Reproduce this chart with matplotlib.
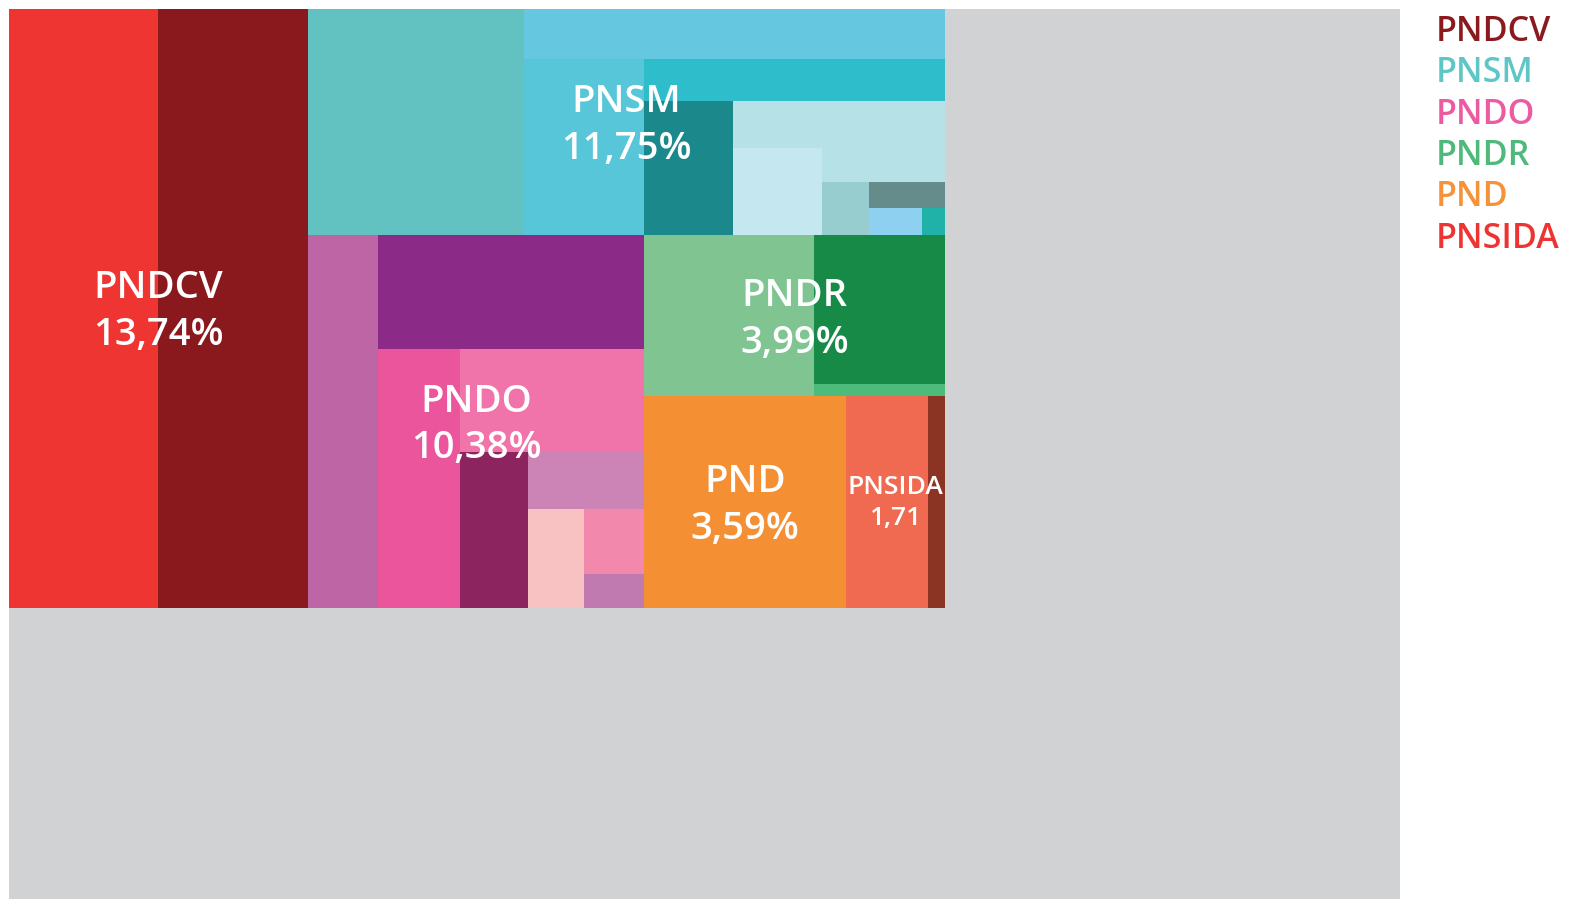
import matplotlib
matplotlib.use('Agg')
import matplotlib.pyplot as plt
from matplotlib.patches import Rectangle

# programme names, label text and legend colours
programmes = ['PNDCV', 'PNSM', 'PNDO', 'PNDR', 'PND', 'PNSIDA']
labels = ['13,74%', '11,75%', '10,38%', '3,99%', '3,59%', '1,71']
legend_colors = ['#8B1A1E', '#5EC6C6', '#EC5BA1', '#4EB97B', '#F5923A', '#EE3432']

# sub-blocks of each programme, in % of the whole frame
pndcv_vals = [7.25, 7.25]
pndcv_cols = ['#EE3531', '#8A191E']

pnsm_vals = [3.95, 1.705, 1.71, 1.024, 0.966, 0.807, 0.627, 0.339, 0.202, 0.160, 0.116, 0.050]
pnsm_cols = ['#62C2C1', '#66C8E0', '#56C6D8', '#2EBDCA', '#1B888C', '#B5E1E7',
             '#C5E8F0', '#B5E1E7', '#97CDCF', '#668B8B', '#8DD0F0', '#20B2A8']

pndo_vals = [2.103, 2.434, 1.713, 1.535, 0.854, 0.535, 0.444, 0.311, 0.165]
pndo_cols = ['#BE65A5', '#8B2A87', '#EA559B', '#F074A9', '#8C2460', '#CC84B6',
             '#F8C1C2', '#F289AC', '#C07AB0']

pndr_vals = [2.203, 1.570, 0.127]
pndr_cols = ['#80C591', '#178A47', '#4DBB7A']

pnd_vals = [3.452]
pnd_cols = ['#F48F34']

pnsida_vals = [1.401, 0.290]
pnsida_cols = ['#EF6A50', '#8C3424']

group_vals = [pndcv_vals, pnsm_vals, pndo_vals, pndr_vals, pnd_vals, pnsida_vals]
group_cols = [pndcv_cols, pnsm_cols, pndo_cols, pndr_cols, pnd_cols, pnsida_cols]

FRAME_W, FRAME_H = 1391.5, 890.5
BG = '#D1D2D4'


def alt_slice(values, x, y, w, h):
    # slice-and-dice, cutting alternately left/right and top/bottom
    rects = []
    total = float(sum(values))
    vert = True
    for i, v in enumerate(values):
        if i == len(values) - 1:
            rects.append((x, y, w, h))
            break
        frac = v / total
        if vert:
            dw = w * frac
            rects.append((x, y, dw, h))
            x += dw
            w -= dw
        else:
            dh = h * frac
            rects.append((x, y, w, dh))
            y += dh
            h -= dh
        total -= v
        vert = not vert
    return rects


fig = plt.figure(figsize=(15.72, 8.99), dpi=100)
ax = fig.add_axes([8.5 / 1572, 0, FRAME_W / 1572, FRAME_H / 899])
ax.set_xlim(0, FRAME_W)
ax.set_ylim(FRAME_H, 0)
ax.set_facecolor(BG)
ax.set_xticks([])
ax.set_yticks([])
for s in ax.spines.values():
    s.set_visible(False)

# the coloured block is a scaled copy of the frame holding the summed share
sums = [sum(v) for v in group_vals]
scale = (sum(sums) / 100.0) ** 0.5
block = alt_slice(sums, 0, 0, FRAME_W * scale, FRAME_H * scale)

for gi, (gx, gy, gw, gh) in enumerate(block):
    for (rx, ry, rw, rh), c in zip(alt_slice(group_vals[gi], gx, gy, gw, gh), group_cols[gi]):
        ax.add_patch(Rectangle((rx, ry), rw, rh, facecolor=c, edgecolor='none'))
    small = programmes[gi] == 'PNSIDA'
    fs = 19 if small else 27.5
    ax.text(gx + gw / 2, gy + gh / 2 + (1 if small else 3.5),
            programmes[gi] + '\n' + labels[gi],
            ha='center', va='center', color='white', fontsize=fs,
            family='Open Sans', fontweight='semibold', linespacing=1.3)

# legend as coloured text
for i, (name, c) in enumerate(zip(programmes, legend_colors)):
    fig.text(1436 / 1572, 1 - (32 + i * 41.3) / 899, name, color=c,
             fontsize=24.5, family='Open Sans', fontweight='semibold',
             ha='left', va='center')

fig.savefig('out.png', dpi=100)
